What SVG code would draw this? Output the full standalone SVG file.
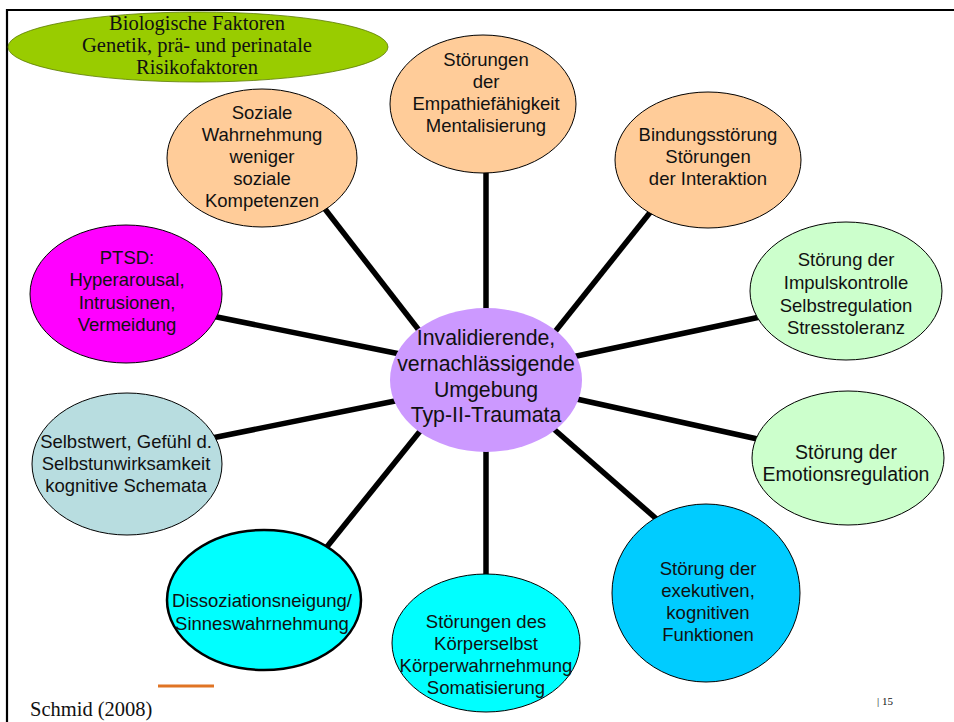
<svg xmlns="http://www.w3.org/2000/svg" width="954" height="722" viewBox="0 0 954 722">
<style>
.n{stroke:#000;stroke-width:1}
.t{font-family:"Liberation Sans",Arial,sans-serif;font-size:18.5px;fill:#111;text-anchor:middle}
.s{font-family:"Liberation Serif","Times New Roman",serif;fill:#111}
.c line{stroke:#000;stroke-width:5.5;stroke-linecap:butt}
</style>
<rect x="0" y="0" width="954" height="722" fill="#fff"/>
<g id="frame"><path d="M7 722 V10 H954" fill="none" stroke="#000" stroke-width="2.2"/></g>
<g class="c" id="connectors">
<line x1="486" y1="170" x2="486" y2="320"/>
<line x1="318" y1="200" x2="425" y2="338"/>
<line x1="652" y1="210" x2="550" y2="338"/>
<line x1="760" y1="317" x2="572" y2="357"/>
<line x1="762" y1="440" x2="572" y2="398"/>
<line x1="660" y1="522" x2="548" y2="424"/>
<line x1="486" y1="440" x2="486" y2="580"/>
<line x1="326" y1="548" x2="425" y2="425"/>
<line x1="212" y1="438" x2="400" y2="400"/>
<line x1="212" y1="316" x2="400" y2="354"/>
</g>
<g id="bio">
<ellipse cx="198" cy="47" rx="190" ry="35" fill="#99cc00" stroke="#5a7a00" stroke-width="0.8"/>
<text class="s" style="font-size:20.5px" text-anchor="middle"><tspan x="197" y="30">Biologische Faktoren</tspan><tspan x="197" y="52">Genetik, prä- und perinatale</tspan><tspan x="197" y="74">Risikofaktoren</tspan></text>
</g>
<g id="center">
<ellipse cx="486" cy="380" rx="96" ry="72" fill="#cc99ff"/>
<text class="t" style="font-size:21.3px"><tspan x="486" y="345">Invalidierende,</tspan><tspan x="486" y="371">vernachlässigende</tspan><tspan x="486" y="397">Umgebung</tspan><tspan x="486" y="422">Typ-II-Traumata</tspan></text>
</g>
<g id="empathie">
<ellipse class="n" cx="483" cy="104" rx="93" ry="69" fill="#ffcc99"/>
<text class="t"><tspan x="486" y="66">Störungen</tspan><tspan x="486" y="88">der</tspan><tspan x="486" y="110">Empathiefähigkeit</tspan><tspan x="486" y="132">Mentalisierung</tspan></text>
</g>
<g id="soziale">
<ellipse class="n" cx="262" cy="158" rx="95" ry="69" fill="#ffcc99"/>
<text class="t"><tspan x="262" y="119">Soziale</tspan><tspan x="262" y="141">Wahrnehmung</tspan><tspan x="262" y="163">weniger</tspan><tspan x="262" y="185">soziale</tspan><tspan x="262" y="207">Kompetenzen</tspan></text>
</g>
<g id="bindung">
<ellipse class="n" cx="708" cy="160" rx="93" ry="68" fill="#ffcc99"/>
<text class="t"><tspan x="708" y="141">Bindungsstörung</tspan><tspan x="708" y="163">Störungen</tspan><tspan x="708" y="185">der Interaktion</tspan></text>
</g>
<g id="impuls">
<ellipse class="n" cx="846" cy="291" rx="96" ry="69" fill="#ccffcc"/>
<text class="t"><tspan x="846" y="266">Störung der</tspan><tspan x="846" y="289">Impulskontrolle</tspan><tspan x="846" y="312">Selbstregulation</tspan><tspan x="846" y="334">Stresstoleranz</tspan></text>
</g>
<g id="emotion">
<ellipse class="n" cx="848" cy="458" rx="96" ry="67" fill="#ccffcc"/>
<text class="t" style="font-size:19.5px"><tspan x="846" y="459">Störung der</tspan><tspan x="846" y="481">Emotionsregulation</tspan></text>
</g>
<g id="exekutiv">
<ellipse class="n" cx="706" cy="593" rx="94" ry="89" fill="#00ccff"/>
<text class="t"><tspan x="708" y="575">Störung der</tspan><tspan x="708" y="597">exekutiven,</tspan><tspan x="708" y="619">kognitiven</tspan><tspan x="708" y="641">Funktionen</tspan></text>
</g>
<g id="koerper">
<ellipse class="n" cx="486" cy="643" rx="94" ry="69" fill="#00ffff"/>
<text class="t"><tspan x="486" y="628">Störungen des</tspan><tspan x="486" y="650">Körperselbst</tspan><tspan x="486" y="672">Körperwahrnehmung</tspan><tspan x="486" y="694">Somatisierung</tspan></text>
</g>
<g id="dissoziation">
<ellipse cx="264" cy="600" rx="97" ry="70" fill="#00ffff" stroke="#000" stroke-width="2.5"/>
<text class="t"><tspan x="262" y="607">Dissoziationsneigung/</tspan><tspan x="262" y="630">Sinneswahrnehmung</tspan></text>
</g>
<g id="selbstwert">
<ellipse class="n" cx="127" cy="464" rx="95" ry="71" fill="#b8dde0"/>
<text class="t"><tspan x="126" y="448">Selbstwert, Gefühl d.</tspan><tspan x="126" y="470">Selbstunwirksamkeit</tspan><tspan x="126" y="492">kognitive Schemata</tspan></text>
</g>
<g id="ptsd">
<ellipse class="n" cx="126" cy="294" rx="96" ry="69" fill="#ff00ff"/>
<text class="t"><tspan x="127" y="264">PTSD:</tspan><tspan x="127" y="286">Hyperarousal,</tspan><tspan x="127" y="309">Intrusionen,</tspan><tspan x="127" y="331">Vermeidung</tspan></text>
</g>
<g id="footer">
<line x1="158" y1="686" x2="214" y2="686" stroke="#e07424" stroke-width="3"/>
<text class="s" x="30" y="716" style="font-size:20.5px">Schmid (2008)</text>
<text class="s" x="877" y="705" style="font-size:11px" fill="#444">| 15</text>
</g>
</svg>
